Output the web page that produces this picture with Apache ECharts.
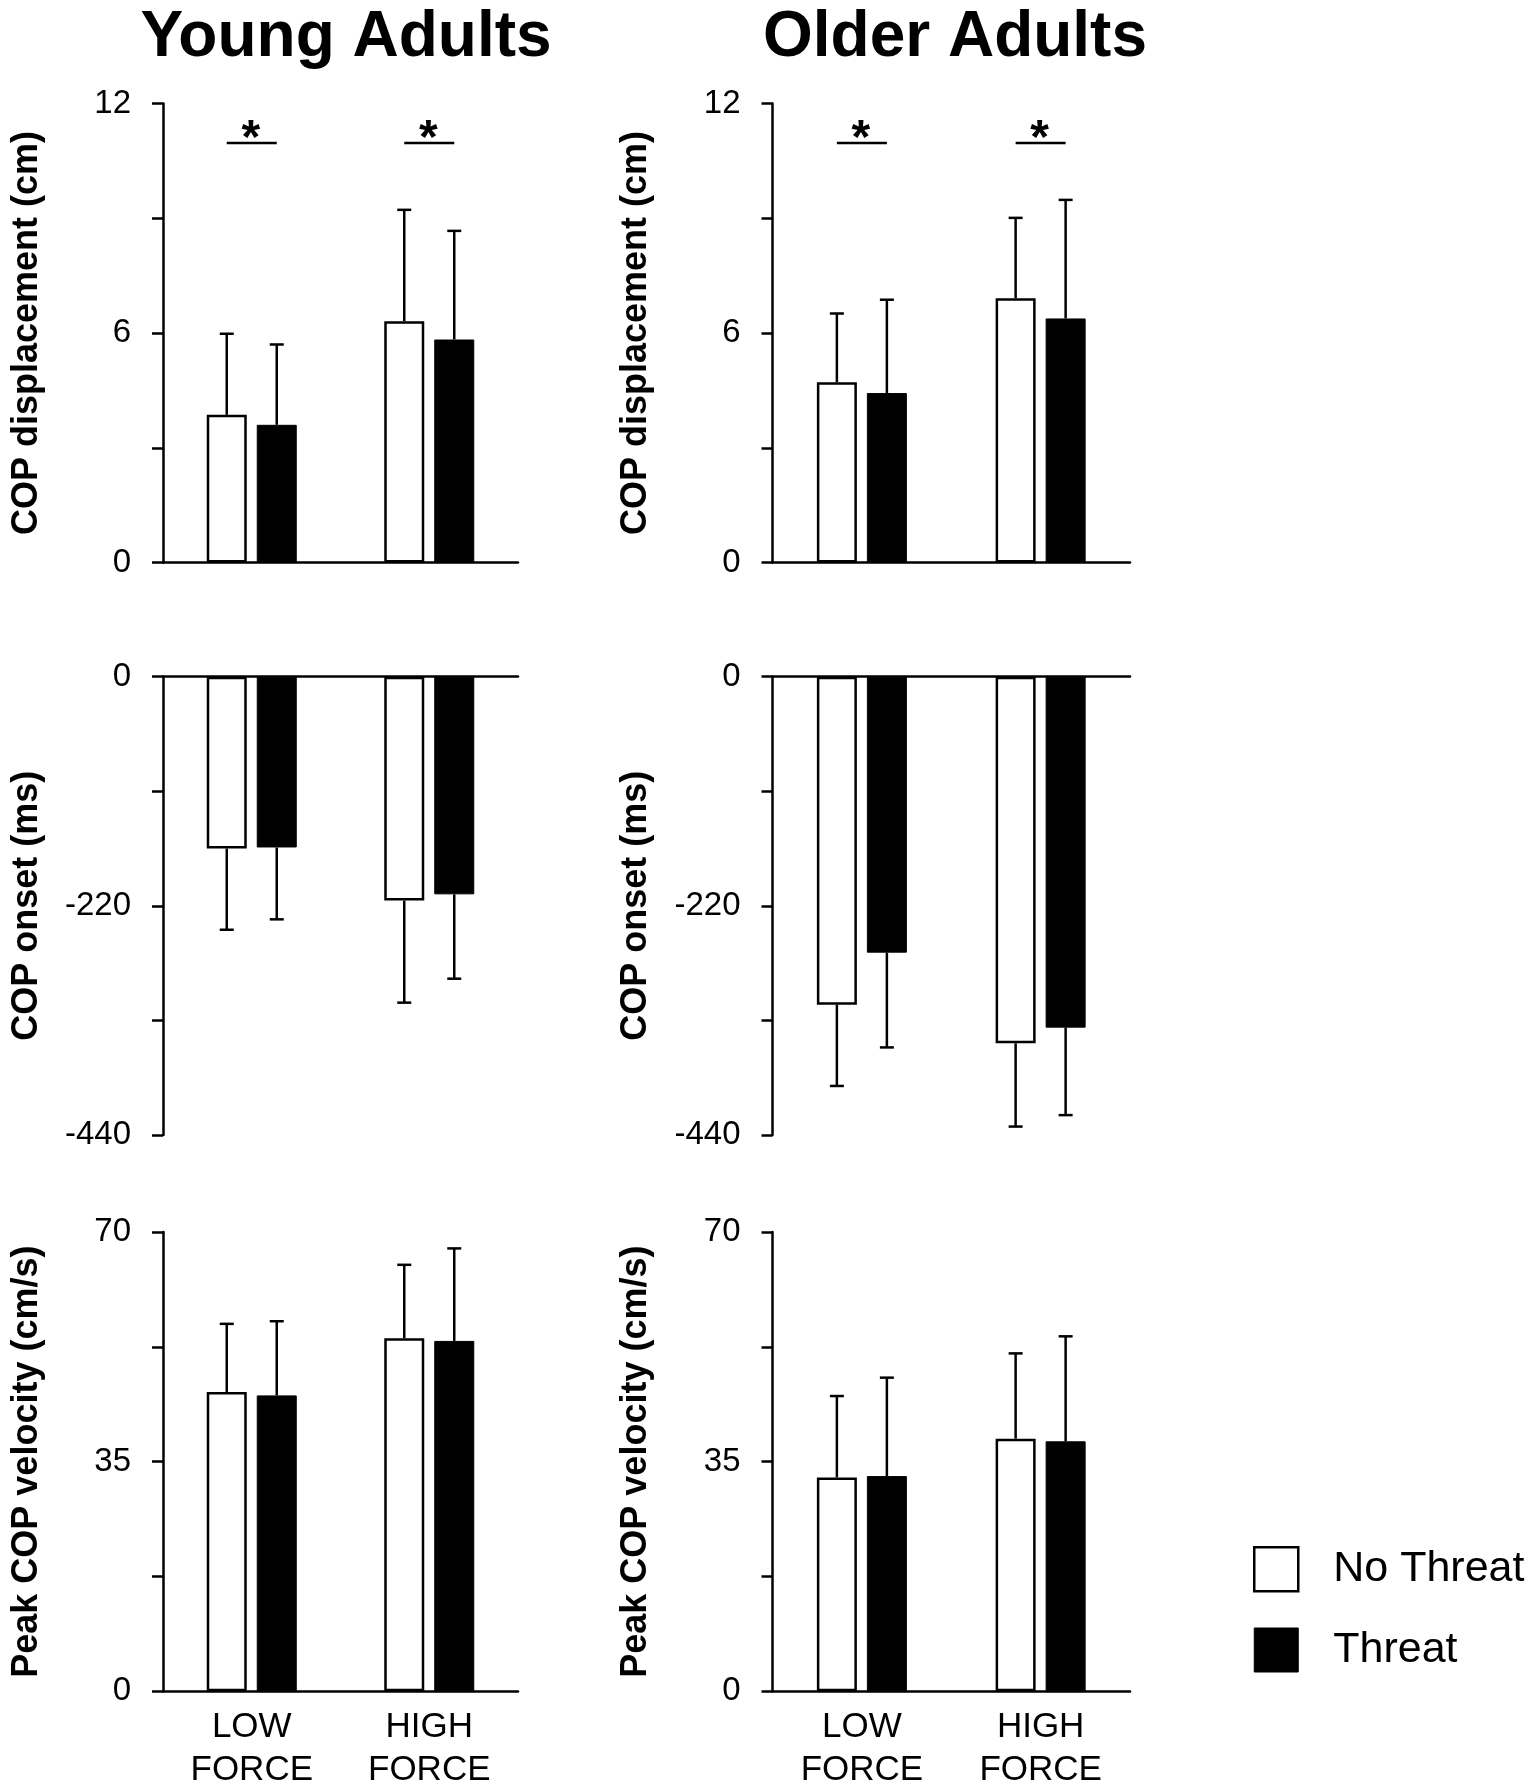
<!DOCTYPE html>
<html>
<head>
<meta charset="utf-8">
<script src="https://cdn.jsdelivr.net/npm/echarts@6/dist/echarts.min.js"></script>
<style>
  html, body { margin: 0; padding: 0; background: #fff; }
  #chart { width: 1535px; height: 1787px; }
</style>
</head>
<body>
<div id="chart"></div>
<script>
// categories and series
var categories = ['LOW\nFORCE', 'HIGH\nFORCE'];
var seriesNames = ['No Threat', 'Threat'];
var groupTitles = ['Young Adults', 'Older Adults'];
var measureNames = ['COP displacement (cm)', 'COP onset (ms)', 'Peak COP velocity (cm/s)'];

// axis ranges per measure
var axisMin = [0, -440, 0];
var axisMax = [12, 0, 70];
var tickStep = [3, 110, 17.5];
var labelStep = [6, 220, 35];

// means and SD (LOW, HIGH)
var youngDispNo = [3.86, 6.31];
var youngDispNoSD = [2.12, 2.91];
var youngDispThreat = [3.6, 5.83];
var youngDispThreatSD = [2.1, 2.84];
var olderDispNo = [4.71, 6.91];
var olderDispNoSD = [1.8, 2.1];
var olderDispThreat = [4.43, 6.38];
var olderDispThreatSD = [2.44, 3.1];

var youngOnsetNo = [-165, -215];
var youngOnsetNoSD = [78, 98];
var youngOnsetThreat = [-164, -209];
var youngOnsetThreatSD = [69, 81];
var olderOnsetNo = [-315, -352];
var olderOnsetNoSD = [78, 80];
var olderOnsetThreat = [-265, -337];
var olderOnsetThreatSD = [91, 84];

var youngVelNo = [45.6, 53.8];
var youngVelNoSD = [10.4, 11.2];
var youngVelThreat = [45.1, 53.4];
var youngVelThreatSD = [11.3, 14.1];
var olderVelNo = [32.6, 38.5];
var olderVelNoSD = [12.4, 13];
var olderVelThreat = [32.8, 38.1];
var olderVelThreatSD = [15, 16];

// significance bars (displacement row only)
var sigCategories = [0, 1];
var sigLevel = 10.97;

var FONT = '"Liberation Sans", Arial, sans-serif';

// panel order: row by row, young then older
var panels = [
  [youngDispNo, youngDispNoSD, youngDispThreat, youngDispThreatSD],
  [olderDispNo, olderDispNoSD, olderDispThreat, olderDispThreatSD],
  [youngOnsetNo, youngOnsetNoSD, youngOnsetThreat, youngOnsetThreatSD],
  [olderOnsetNo, olderOnsetNoSD, olderOnsetThreat, olderOnsetThreatSD],
  [youngVelNo, youngVelNoSD, youngVelThreat, youngVelThreatSD],
  [olderVelNo, olderVelNoSD, olderVelThreat, olderVelThreatSD]
];

var colLeft = [163, 772.5];
var colWidth = [355, 357.5];
var rowTop = [103.5, 676.7, 1232];
var rowHeight = [459, 458.2, 459.3];

var BAR_OFFSET = 25;

function errorRender(params, api) {
  var cat = api.value(0), mean = api.value(1), sd = api.value(2), side = api.value(3);
  var end = mean < 0 ? mean - sd : mean + sd;
  var p0 = api.coord([cat, mean]);
  var p1 = api.coord([cat, end]);
  var x = p0[0] + side * BAR_OFFSET;
  var st = { stroke: '#000', lineWidth: 2.5 };
  return {
    type: 'group',
    children: [
      { type: 'line', shape: { x1: x, y1: p0[1], x2: x, y2: p1[1] }, style: st },
      { type: 'line', shape: { x1: x - 7, y1: p1[1], x2: x + 7, y2: p1[1] }, style: st }
    ]
  };
}

function sigRender(params, api) {
  var p = api.coord([api.value(0), api.value(1)]);
  return {
    type: 'group',
    children: [
      { type: 'line', shape: { x1: p[0] - BAR_OFFSET, y1: p[1], x2: p[0] + BAR_OFFSET, y2: p[1] },
        style: { stroke: '#000', lineWidth: 2.5 } },
      { type: 'text', x: p[0] - 1, y: p[1] - 3,
        style: { text: '*', fontSize: 48, fontWeight: 'bold', fontFamily: FONT, fill: '#000',
                 align: 'center', verticalAlign: 'middle' } }
    ]
  };
}

var grids = [], xAxes = [], yAxes = [], series = [];

panels.forEach(function (pd, i) {
  var row = Math.floor(i / 2), col = i % 2;
  grids.push({
    left: colLeft[col], top: rowTop[row], width: colWidth[col], height: rowHeight[row],
    containLabel: false, outerBoundsMode: 'none'
  });
  xAxes.push({
    type: 'category', gridIndex: i, data: categories,
    axisLine: { lineStyle: { color: '#000', width: 2.5 } },
    axisTick: { show: false },
    axisLabel: {
      show: row === 2, color: '#000', fontSize: 35, fontFamily: FONT,
      lineHeight: 43, margin: 15, interval: 0
    }
  });
  var step = labelStep[row];
  yAxes.push({
    type: 'value', gridIndex: i, min: axisMin[row], max: axisMax[row], interval: tickStep[row],
    name: measureNames[row], nameLocation: 'middle', nameGap: 118, nameRotate: 90,
    nameTextStyle: { fontSize: 36, fontWeight: 'bold', color: '#000', fontFamily: FONT },
    axisLine: { show: true, lineStyle: { color: '#000', width: 2.5 } },
    axisTick: { show: true, length: 11, lineStyle: { color: '#000', width: 2.5 } },
    splitLine: { show: false },
    axisLabel: {
      color: '#000', fontSize: 33, fontFamily: FONT, margin: 32,
      formatter: function (v) { return Math.abs(v % step) < 1e-6 ? String(v) : ''; }
    }
  });

  series.push({
    name: seriesNames[0], type: 'bar', xAxisIndex: i, yAxisIndex: i,
    data: pd[0], barWidth: 40, barGap: '25%',
    itemStyle: { color: '#fff', borderColor: '#000', borderWidth: 2.5 }
  });
  series.push({
    name: seriesNames[1], type: 'bar', xAxisIndex: i, yAxisIndex: i,
    data: pd[2], barWidth: 40, barGap: '25%',
    itemStyle: { color: '#000', borderColor: '#000', borderWidth: 1 }
  });

  var errData = [];
  categories.forEach(function (c, k) {
    errData.push([k, pd[0][k], pd[1][k], -1]);
    errData.push([k, pd[2][k], pd[3][k], 1]);
  });
  series.push({
    type: 'custom', xAxisIndex: i, yAxisIndex: i, z: 5,
    renderItem: errorRender, data: errData,
    encode: { x: 0, y: 1 }, silent: true
  });

  if (row === 0) {
    series.push({
      type: 'custom', xAxisIndex: i, yAxisIndex: i, z: 5,
      renderItem: sigRender,
      data: sigCategories.map(function (k) { return [k, sigLevel]; }),
      encode: { x: 0, y: 1 }, silent: true
    });
  }
});

var chart = echarts.init(document.getElementById('chart'));
chart.setOption({
  backgroundColor: '#fff',
  animation: false,
  title: [
    { text: groupTitles[0], left: 341, top: 1, textAlign: 'center',
      textStyle: { fontSize: 64, fontWeight: 'bold', color: '#000', fontFamily: FONT } },
    { text: groupTitles[1], left: 950, top: 1, textAlign: 'center',
      textStyle: { fontSize: 64, fontWeight: 'bold', color: '#000', fontFamily: FONT } }
  ],
  legend: {
    orient: 'vertical', left: 1248, top: 1541, itemWidth: 44, itemHeight: 44, itemGap: 35,
    icon: 'rect', selectedMode: false,
    textStyle: { fontSize: 43, color: '#000', fontFamily: FONT, padding: [0, 0, 0, 30] },
    data: [
      { name: seriesNames[0], itemStyle: { color: '#fff', borderColor: '#000', borderWidth: 2.5 } },
      { name: seriesNames[1], itemStyle: { color: '#000', borderColor: '#000', borderWidth: 1 } }
    ]
  },
  grid: grids,
  xAxis: xAxes,
  yAxis: yAxes,
  series: series
});
</script>
</body>
</html>
